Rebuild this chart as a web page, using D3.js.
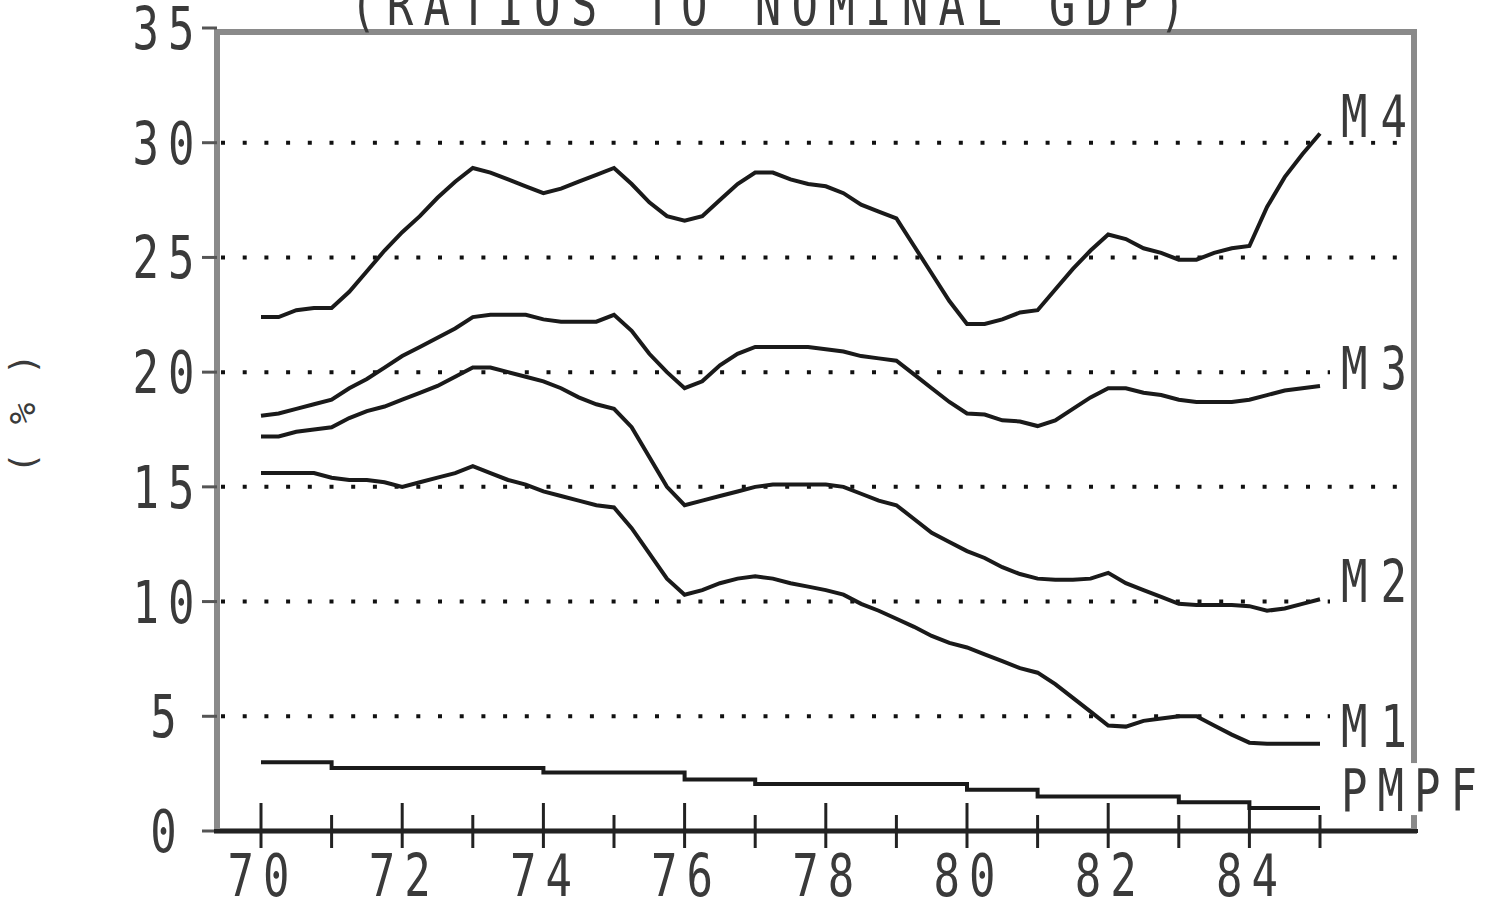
<!DOCTYPE html>
<html>
<head>
<meta charset="utf-8">
<script src="https://cdn.jsdelivr.net/npm/d3@7/dist/d3.min.js"></script>
<style>
  body { margin: 0; background: #fff; }
  text { font-family: "DejaVu Sans Mono", "Liberation Mono", monospace; fill: #3a3a3a; }
</style>
</head>
<body>
<svg width="1487" height="911"></svg>
<script>
// quarterly data, 1970 Q1 .. 1985 Q1 (ratios to nominal GDP, %)
var quarters = d3.range(0, 61).map(function(i){ return 70 + i / 4; });

var m4 = [22.4, 22.4, 22.7, 22.8, 22.8, 23.5, 24.4, 25.3, 26.1, 26.8, 27.6, 28.3, 28.9, 28.7, 28.4, 28.1,
          27.8, 28.0, 28.3, 28.6, 28.9, 28.2, 27.4, 26.8, 26.6, 26.8, 27.5, 28.2, 28.7, 28.7, 28.4, 28.2,
          28.1, 27.8, 27.3, 27.0, 26.7, 25.5, 24.3, 23.1, 22.1, 22.1, 22.3, 22.6, 22.7, 23.6, 24.5, 25.3,
          26.0, 25.8, 25.4, 25.2, 24.9, 24.9, 25.2, 25.4, 25.5, 27.2, 28.5, 29.5, 30.4];

var m3 = [18.1, 18.2, 18.4, 18.6, 18.8, 19.3, 19.7, 20.2, 20.7, 21.1, 21.5, 21.9, 22.4, 22.5, 22.5, 22.5,
          22.3, 22.2, 22.2, 22.2, 22.5, 21.8, 20.8, 20.0, 19.3, 19.6, 20.3, 20.8, 21.1, 21.1, 21.1, 21.1,
          21.0, 20.9, 20.7, 20.6, 20.5, 19.9, 19.3, 18.7, 18.2, 18.15, 17.9, 17.85, 17.65, 17.9, 18.4, 18.9,
          19.3, 19.3, 19.1, 19.0, 18.8, 18.7, 18.7, 18.7, 18.8, 19.0, 19.2, 19.3, 19.4];

var m2 = [17.2, 17.2, 17.4, 17.5, 17.6, 18.0, 18.3, 18.5, 18.8, 19.1, 19.4, 19.8, 20.2, 20.2, 20.0, 19.8,
          19.6, 19.3, 18.9, 18.6, 18.4, 17.6, 16.3, 15.0, 14.2, 14.4, 14.6, 14.8, 15.0, 15.1, 15.1, 15.1,
          15.1, 15.0, 14.7, 14.4, 14.2, 13.6, 13.0, 12.6, 12.2, 11.9, 11.5, 11.2, 11.0, 10.95, 10.95, 11.0,
          11.25, 10.8, 10.5, 10.2, 9.9, 9.85, 9.85, 9.85, 9.8, 9.6, 9.7, 9.9, 10.1];

var m1 = [15.6, 15.6, 15.6, 15.6, 15.4, 15.3, 15.3, 15.2, 15.0, 15.2, 15.4, 15.6, 15.9, 15.6, 15.3, 15.1,
          14.8, 14.6, 14.4, 14.2, 14.1, 13.2, 12.1, 11.0, 10.3, 10.5, 10.8, 11.0, 11.1, 11.0, 10.8, 10.65,
          10.5, 10.3, 9.9, 9.6, 9.25, 8.9, 8.5, 8.2, 8.0, 7.7, 7.4, 7.1, 6.9, 6.4, 5.8, 5.2,
          4.6, 4.55, 4.8, 4.9, 5.0, 5.0, 4.6, 4.2, 3.85, 3.8, 3.8, 3.8, 3.8];

// PMPF is yearly, held flat through each year
var pmpfYears = [70, 71, 72, 73, 74, 75, 76, 77, 78, 79, 80, 81, 82, 83, 84, 85];
var pmpf = [3.0, 2.75, 2.75, 2.75, 2.55, 2.55, 2.25, 2.05, 2.05, 2.05, 1.8, 1.5, 1.5, 1.25, 1.0, 1.0];

var seriesNames = ["M4", "M3", "M2", "M1"];
var yearTicks = [70, 71, 72, 73, 74, 75, 76, 77, 78, 79, 80, 81, 82, 83, 84, 85];
var yearLabels = ["70", "72", "74", "76", "78", "80", "82", "84"];
var yTicks = [0, 5, 10, 15, 20, 25, 30, 35];
var gridValues = [5, 10, 15, 20, 25, 30];
var title = "(RATIOS TO NOMINAL GDP)";

var svg = d3.select('svg');

var scaleX = d3.scaleLinear().domain([70, 85]).range([261, 1320]);
var scaleY = d3.scaleLinear().domain([0, 35]).range([831, 28]);

//helper to draw tall, narrow "plotter" text
function bigText(str, x, y, anchor, spacing){
    return svg.append('text')
        .text(str)
        .attr('transform', 'translate(' + x + ',' + y + ') scale(1,1.35)')
        .attr('font-size', 44)
        .attr('letter-spacing', spacing)
        .style('text-anchor', anchor);
}

// dotted gridlines
svg.selectAll('.grid')
    .data(gridValues)
    .enter()
    .append('line')
    .attr('class', 'grid')
    .attr('x1', 221).attr('x2', 1410)
    .attr('y1', function(d){ return scaleY(d); })
    .attr('y2', function(d){ return scaleY(d); })
    .attr('stroke', '#111')
    .attr('stroke-width', 4)
    .attr('stroke-dasharray', '4,17.7');

// frame (grey, like the old plotter)
svg.append('rect')
    .attr('x', 217).attr('y', 32)
    .attr('width', 1197).attr('height', 799)
    .attr('fill', 'none')
    .attr('stroke', '#8a8a8a')
    .attr('stroke-width', 6);

// little ticks left of the frame
svg.selectAll('.ytick')
    .data(yTicks)
    .enter()
    .append('line')
    .attr('x1', 202).attr('x2', 217)
    .attr('y1', function(d){ return scaleY(d); })
    .attr('y2', function(d){ return scaleY(d); })
    .attr('stroke', '#555')
    .attr('stroke-width', 3);

// bottom axis line
svg.append('line')
    .attr('x1', 214).attr('x2', 1418)
    .attr('y1', scaleY(0)).attr('y2', scaleY(0))
    .attr('stroke', '#222')
    .attr('stroke-width', 4);

// year ticks, even years a bit taller
svg.selectAll('.xtick')
    .data(yearTicks)
    .enter()
    .append('line')
    .attr('x1', function(d){ return scaleX(d); })
    .attr('x2', function(d){ return scaleX(d); })
    .attr('y1', function(d){ return d % 2 == 0 ? 803 : 815; })
    .attr('y2', 848)
    .attr('stroke', '#222')
    .attr('stroke-width', 3);

// money lines
var line = d3.line()
    .x(function(d, i){ return scaleX(quarters[i]); })
    .y(function(d){ return scaleY(d); });

[m4, m3, m2, m1].forEach(function(s){
    svg.append('path')
        .attr('d', line(s))
        .attr('fill', 'none')
        .attr('stroke', '#1a1a1a')
        .attr('stroke-width', 4);
});

var stepLine = d3.line()
    .x(function(d, i){ return scaleX(pmpfYears[i]); })
    .y(function(d){ return scaleY(d); })
    .curve(d3.curveStepAfter);

svg.append('path')
    .attr('d', stepLine(pmpf))
    .attr('fill', 'none')
    .attr('stroke', '#1a1a1a')
    .attr('stroke-width', 4);

// end labels, with white behind so the dots stop
var ends = [m4, m3, m2, m1, pmpf];
var endNames = seriesNames.concat(["PMPF"]);
ends.forEach(function(s, i){
    var base = scaleY(s[s.length - 1]) + 3;
    svg.append('rect')
        .attr('x', 1330).attr('y', base - 48)
        .attr('width', i == 4 ? 157 : 78).attr('height', 52)
        .attr('fill', '#fff');
    bigText(endNames[i], 1341, base, 'start', i == 4 ? 10 : 13);
});

// x labels
yearLabels.forEach(function(t){
    bigText(t, scaleX(+t) + 2, 896, 'middle', 9);
});

// y labels
yTicks.forEach(function(v){
    bigText(String(v), 168, scaleY(v) + 21, 'middle', 9);
});

// title, cut by the top edge
bigText(title, 350, 25, 'start', 10.3);

// y axis unit
svg.append('text')
    .text('( % )')
    .attr('transform', 'translate(35,412) rotate(-90)')
    .attr('font-size', 36)
    .attr('letter-spacing', 3)
    .style('text-anchor', 'middle');
</script>
</body>
</html>
